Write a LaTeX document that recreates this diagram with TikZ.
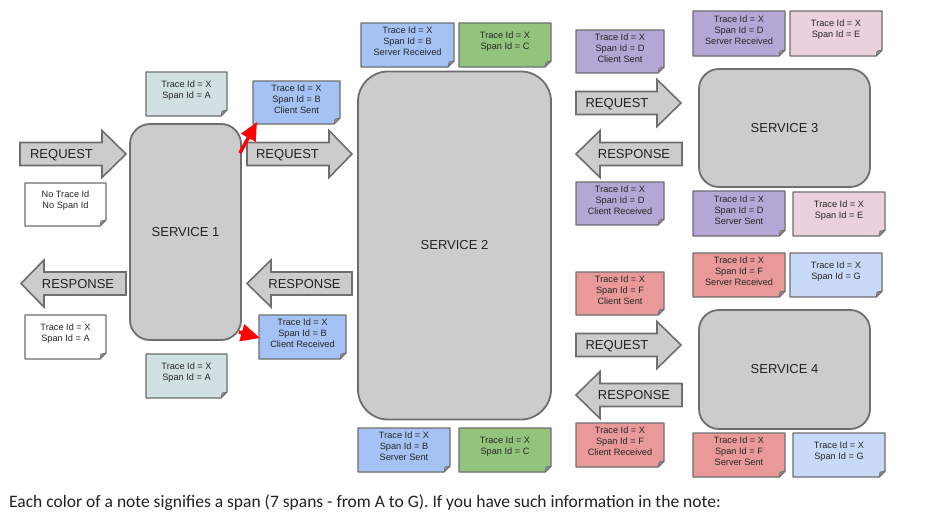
\documentclass[tikz,border=0pt]{standalone}
\usepackage{fontspec}
\setmainfont{Liberation Sans}
\newfontfamily\captionfont{Carlito}
\usetikzlibrary{arrows.meta,calc}

\definecolor{cA}{HTML}{D0E0E3}
\definecolor{cB}{HTML}{A4C2F4}
\definecolor{cC}{HTML}{93C47D}
\definecolor{cD}{HTML}{B4A7D6}
\definecolor{cE}{HTML}{EAD1DC}
\definecolor{cF}{HTML}{EA9999}
\definecolor{cG}{HTML}{C9DAF8}
\definecolor{gfill}{HTML}{CCCCCC}
\definecolor{gline}{HTML}{6E6E6E}
\definecolor{txt}{HTML}{222222}

\newcommand\tnote[7]{%
  \node[notebox, minimum width={(#4)-(#2)}, minimum height={(#5)-(#3)}] (#1) at ({((#2)+(#4))/2},{((#3)+(#5))/2}) {};
  \draw[noteline, fill=#6] (#1.north west) -- (#1.north east) -- ([yshift=6pt]#1.south east) -- ([xshift=-6pt]#1.south east) -- (#1.south west) -- cycle;
  \draw[notefold] ([yshift=6pt]#1.south east) -- ([xshift=-6pt]#1.south east) -- ([xshift=-5pt,yshift=5pt]#1.south east) -- cycle;
  \node[notetext] (#1t) at ([yshift=3.5pt]#1.center) {#7};
}
% name, x1, xhead, xtip, yc, textx, label
\newcommand\ReqArrow[7]{%
  \draw[bigarrow] ({#2},{#5-11.5}) -- ({#3},{#5-11.5}) -- ({#3},{#5-23.5}) -- ({#4},{#5}) -- ({#3},{#5+23.5}) -- ({#3},{#5+11.5}) -- ({#2},{#5+11.5}) -- cycle;
  \node[arrowtext] (#1) at ({#6},{#5+4.7}) {#7};
}
% name, xtip, xhead, x2, yc, textx, label
\newcommand\RespArrow[7]{%
  \draw[bigarrow] ({#2},{#5}) -- ({#3},{#5-23.5}) -- ({#3},{#5-11.5}) -- ({#4},{#5-11.5}) -- ({#4},{#5+11.5}) -- ({#3},{#5+11.5}) -- ({#3},{#5+23.5}) -- cycle;
  \node[arrowtext] (#1) at ({#6},{#5+4.7}) {#7};
}

\begin{document}
\begin{tikzpicture}[x=1pt,y=-1pt,
  svc/.style={draw=gline, line width=1.8pt, fill=gfill, inner sep=0pt, font=\fontsize{13}{15}\selectfont, text=txt},
  notebox/.style={inner sep=0pt, outer sep=0pt},
  noteline/.style={draw=gline, line width=1.4pt, line join=round},
  notefold/.style={draw=gline, line width=0.6pt, fill=black!45, line join=round},
  notetext/.style={align=center, font=\fontsize{9.2}{11}\selectfont, text=black!85, inner sep=0pt},
  bigarrow/.style={draw=gline, line width=1.6pt, fill=gfill, line join=miter},
  arrowtext/.style={font=\fontsize{13}{15}\selectfont, text=txt, inner sep=0pt, anchor=base},
  redarrow/.style={draw=red, line width=3.5pt},
]
\fill[white] (0,0) rectangle (940,522);
\useasboundingbox (0,0) rectangle (940,522);

% services
\node[svc, rounded corners=20pt, minimum width=111, minimum height=216] (s1) at (185.5,232) {SERVICE 1};
\node[svc, rounded corners=30pt, minimum width=193, minimum height=348] (s2) at (454.5,245.5) {SERVICE 2};
\node[svc, rounded corners=20pt, minimum width=171, minimum height=118] (s3) at (784.5,128) {SERVICE 3};
\node[svc, rounded corners=20pt, minimum width=171, minimum height=119] (s4) at (784.5,369.5) {SERVICE 4};

% big arrows
\ReqArrow{rq1}{20}{102}{126}{154}{61.5}{REQUEST}
\ReqArrow{rq2}{247}{329}{352}{154}{287.5}{REQUEST}
\RespArrow{rs1}{21}{44}{126}{283.5}{78}{RESPONSE}
\RespArrow{rs2}{247}{271}{352}{283.5}{304.5}{RESPONSE}
\ReqArrow{rq3}{576}{657}{681}{103}{617}{REQUEST}
\RespArrow{rs3}{576}{600}{682}{154}{634}{RESPONSE}
\ReqArrow{rq4}{576}{657}{681}{345}{617}{REQUEST}
\RespArrow{rs4}{576}{600}{682}{395}{634}{RESPONSE}

% notes
\tnote{nA1}{146}{72}{227}{116}{cA}{Trace Id = X\\Span Id = A}
\tnote{nB1}{253}{81}{340}{124}{cB}{Trace Id = X\\Span Id = B\\Client Sent}
\tnote{n0}{25}{183}{106}{226}{white}{No Trace Id\\No Span Id}
\tnote{nA0}{25}{315}{106}{359}{white}{Trace Id = X\\Span Id = A}
\tnote{nB4}{259}{315}{346}{359}{cB}{Trace Id = X\\Span Id = B\\Client Received}
\tnote{nA2}{146}{354}{227}{398}{cA}{Trace Id = X\\Span Id = A}
\tnote{nB2}{361}{23}{454}{67}{cB}{Trace Id = X\\Span Id = B\\Server Received}
\tnote{nC1}{459}{23}{551}{67}{cC}{Trace Id = X\\Span Id = C}
\tnote{nD1}{576}{30}{664}{73}{cD}{Trace Id = X\\Span Id = D\\Client Sent}
\tnote{nD4}{576}{182}{664}{225}{cD}{Trace Id = X\\Span Id = D\\Client Received}
\tnote{nD2}{693}{11}{785}{56}{cD}{Trace Id = X\\Span Id = D\\Server Received}
\tnote{nE1}{790}{11}{882}{56}{cE}{Trace Id = X\\Span Id = E}
\tnote{nD3}{693}{191}{785}{236}{cD}{Trace Id = X\\Span Id = D\\Server Sent}
\tnote{nE2}{793}{192}{885}{236}{cE}{Trace Id = X\\Span Id = E}
\tnote{nF1}{576}{272}{664}{315}{cF}{Trace Id = X\\Span Id = F\\Client Sent}
\tnote{nF4}{576}{423}{664}{467}{cF}{Trace Id = X\\Span Id = F\\Client Received}
\tnote{nB3}{358}{428}{450}{472}{cB}{Trace Id = X\\Span Id = B\\Server Sent}
\tnote{nC2}{459}{428}{551}{472}{cC}{Trace Id = X\\Span Id = C}
\tnote{nF2}{693}{253}{785}{297}{cF}{Trace Id = X\\Span Id = F\\Server Received}
\tnote{nG1}{790}{253}{882}{297}{cG}{Trace Id = X\\Span Id = G}
\tnote{nF3}{693}{433}{785}{477}{cF}{Trace Id = X\\Span Id = F\\Server Sent}
\tnote{nG2}{793}{433}{885}{477}{cG}{Trace Id = X\\Span Id = G}

% red arrows
\draw[redarrow, -{Triangle[length=18pt,width=16pt]}] ([xshift=-2pt,yshift=-30pt]s1.north east) -- ([xshift=4pt,yshift=2pt]nB1.south west);
\draw[redarrow, -{Triangle[length=19pt,width=17pt]}] ([xshift=-3pt,yshift=9pt]s1.south east) -- ([xshift=1pt,yshift=-1pt]nB4.west);

% caption
\node[anchor=base west, font=\captionfont\fontsize{17.5}{21}\selectfont, text=txt, inner sep=0pt] (cap) at (9,507) {Each color of a note signifies a span (7 spans - from A to G). If you have such information in the note:};
\end{tikzpicture}
\end{document}
